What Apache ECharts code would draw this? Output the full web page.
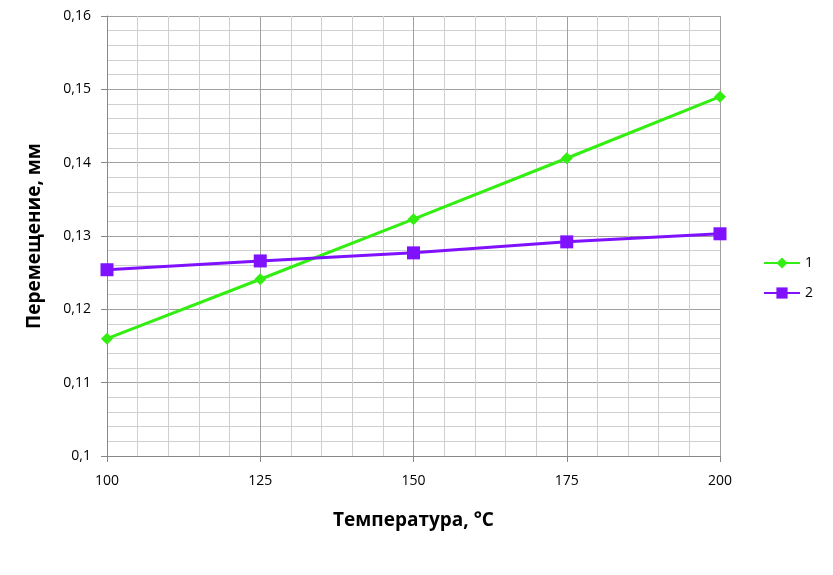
<!DOCTYPE html>
<html><head><meta charset="utf-8">
<script src="https://cdn.jsdelivr.net/npm/echarts@6/dist/echarts.min.js"></script>
<style>html,body{margin:0;padding:0;background:#fff}#c{width:833px;height:575px}</style>
</head><body><div id="c"></div>
<script>
const temps = [100, 125, 150, 175, 200];
const series1 = [0.1160, 0.1241, 0.1323, 0.1406, 0.1490];
const series2 = [0.1254, 0.1266, 0.1277, 0.1292, 0.1303];
const seriesNames = ['1', '2'];
const xTitle = 'Температура, °C';
const yTitle = 'Перемещение, мм';

const font = '"Open Sans", "DejaVu Sans", sans-serif';
const chart = echarts.init(document.getElementById('c'));
const pair = (xs, ys) => xs.map((x, i) => [x, ys[i]]);
chart.setOption({
  animation: false,
  textStyle: { fontFamily: font },
  grid: { left: 107, right: 113, top: 16, bottom: 119 },
  legend: {
    orient: 'vertical', left: 758, top: 251, itemGap: 16, itemWidth: 36, itemHeight: 14,
    textStyle: { fontSize: 14, color: '#000', fontFamily: font },
    data: seriesNames
  },
  xAxis: {
    type: 'value', min: 100, max: 200, interval: 25,
    name: xTitle, nameLocation: 'middle', nameGap: 55,
    nameTextStyle: { fontSize: 19, fontWeight: 'bold', color: '#000', fontFamily: font },
    axisLine: { lineStyle: { color: '#888' } },
    axisTick: { show: true, length: 6, lineStyle: { color: '#888' } },
    axisLabel: { fontSize: 14, color: '#000', margin: 18 },
    splitLine: { show: true, lineStyle: { color: '#a0a0a0', width: 1 } },
    minorTick: { show: false, splitNumber: 5 },
    minorSplitLine: { show: true, lineStyle: { color: '#cfcfcf', width: 1 } }
  },
  yAxis: {
    type: 'value', min: 0.1, max: 0.16, interval: 0.01,
    name: yTitle, nameLocation: 'middle', nameGap: 63, nameRotate: 90,
    nameTextStyle: { fontSize: 19, fontWeight: 'bold', color: '#000', fontFamily: font },
    axisLine: { show: true, lineStyle: { color: '#888' } },
    axisTick: { show: true, length: 6, lineStyle: { color: '#888' } },
    axisLabel: { fontSize: 14, color: '#000', margin: 16,
      formatter: v => String(parseFloat(v.toFixed(3))).replace('.', ',') },
    splitLine: { show: true, lineStyle: { color: '#a0a0a0', width: 1 } },
    minorTick: { show: false, splitNumber: 5 },
    minorSplitLine: { show: true, lineStyle: { color: '#cfcfcf', width: 1 } }
  },
  series: [
    { name: seriesNames[0], type: 'line', data: pair(temps, series1),
      symbol: 'diamond', symbolSize: 12, color: '#33ee11',
      lineStyle: { width: 3, color: '#33ee11' }, itemStyle: { color: '#33ee11' } },
    { name: seriesNames[1], type: 'line', data: pair(temps, series2),
      symbol: 'rect', symbolSize: 13, color: '#7f11ff',
      lineStyle: { width: 3, color: '#7f11ff' }, itemStyle: { color: '#7f11ff' } }
  ]
});
</script></body></html>
